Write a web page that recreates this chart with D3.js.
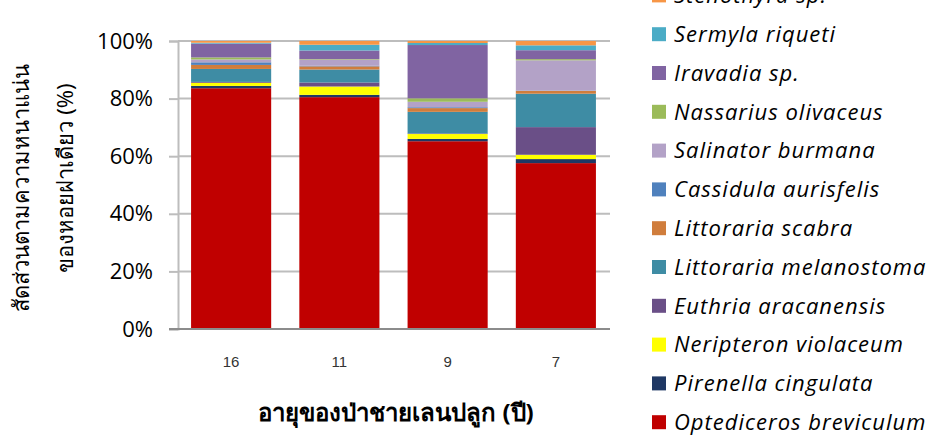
<!DOCTYPE html>
<html>
<head>
<meta charset="utf-8">
<script src="https://cdn.jsdelivr.net/npm/d3@7"></script>
<style>
  html, body { margin: 0; padding: 0; background: #fff; }
  svg { display: block; }
</style>
</head>
<body>
<svg id="chart" width="933" height="437"></svg>
<script>
// Stand ages (years) on the x axis
const categories = ["16", "11", "9", "7"];

// Species, stacked from the bottom of each bar upward
const species = [
  "Optediceros breviculum",
  "Pirenella cingulata",
  "Neripteron violaceum",
  "Euthria aracanensis",
  "Littoraria melanostoma",
  "Littoraria scabra",
  "Cassidula aurisfelis",
  "Salinator burmana",
  "Nassarius olivaceus",
  "Iravadia sp.",
  "Sermyla riqueti",
  "Stenothyra sp."
];

// Share of gastropod density (%) for each species, one value per stand age
const optediceros = [83.6, 80.5, 65.2, 57.6];
const pirenella   = [0.8, 0.8, 0.8, 1.4];
const neripteron  = [1.1, 2.9, 1.7, 1.5];
const euthria     = [0.3, 1.4, 0.2, 9.6];
const lMelano     = [4.5, 4.5, 7.5, 11.6];
const lScabra     = [1.4, 1.1, 1.3, 1.0];
const cassidula   = [0.9, 0.2, 0.3, 0.1];
const salinator   = [1.0, 2.1, 1.9, 10.5];
const nassarius   = [0.7, 0.2, 1.2, 0.4];
const iravadia    = [4.8, 3.0, 18.5, 3.1];
const sermyla     = [0.3, 2.0, 0.7, 1.7];
const stenothyra  = [0.6, 1.3, 0.7, 1.5];

const seriesValues = [optediceros, pirenella, neripteron, euthria, lMelano, lScabra,
                      cassidula, salinator, nassarius, iravadia, sermyla, stenothyra];

const colors = ["#C00000", "#1F3864", "#FFFF00", "#6A4F87", "#3E8CA4", "#D07D3C",
                "#4F81BD", "#B3A2C7", "#9BBB59", "#8064A2", "#4BACC6", "#F79646"];

const yTicks = [0, 20, 40, 60, 80, 100];

const yTitleLines = ["สัดส่วนตามความหนาแน่น", "ของหอยฝาเดียว (%)"];
const xTitle = "อายุของป่าชายเลนปลูก (ปี)";

// Table for d3.stack built from the arrays above
const rows = categories.map((c, i) => {
  const r = { age: c };
  species.forEach((s, k) => { r[s] = seriesValues[k][i]; });
  return r;
});

const svg = d3.select("#chart");
const margin = { left: 178, right: 323, top: 41, bottom: 108 };
const W = 933, H = 437;

const x = d3.scaleBand()
  .domain(categories)
  .range([margin.left - 1, W - margin.right])
  .paddingInner(0.26)
  .paddingOuter(0.13);

const y = d3.scaleLinear()
  .domain([0, 100])
  .range([H - margin.bottom, margin.top]);

const color = d3.scaleOrdinal().domain(species).range(colors);

const font = "'Open Sans', Lato, 'Noto Sans', sans-serif";

// Gridlines
svg.append("g")
  .selectAll("line")
  .data(yTicks.filter(t => t > 0))
  .join("line")
  .attr("x1", margin.left)
  .attr("x2", W - margin.right)
  .attr("y1", d => y(d))
  .attr("y2", d => y(d))
  .attr("stroke", "#BDBDBD")
  .attr("stroke-width", 2);

// Stacked bars
const stacked = d3.stack().keys(species)(rows);
svg.append("g")
  .selectAll("g")
  .data(stacked)
  .join("g")
  .attr("fill", d => color(d.key))
  .selectAll("rect")
  .data(d => d)
  .join("rect")
  .attr("x", d => x(d.data.age))
  .attr("width", x.bandwidth())
  .attr("y", d => y(d[1]))
  .attr("height", d => y(d[0]) - y(d[1]));

// Y axis
const yAxis = svg.append("g")
  .attr("transform", `translate(${margin.left},0)`)
  .call(d3.axisLeft(y).tickValues(yTicks).tickFormat(d => d + "%").tickSize(9).tickPadding(16));
yAxis.select(".domain").attr("stroke", "#BDBDBD").attr("stroke-width", 2);
yAxis.selectAll(".tick line").attr("stroke", "#BDBDBD").attr("stroke-width", 2);
yAxis.selectAll(".tick text")
  .attr("font-family", font)
  .attr("font-size", 22)
  .attr("fill", "#000");

// X axis
const xAxis = svg.append("g")
  .attr("transform", `translate(0,${H - margin.bottom})`)
  .call(d3.axisBottom(x).tickSize(0).tickPadding(27));
xAxis.select(".domain")
  .attr("d", `M${margin.left - 9},0H${W - margin.right}`)
  .attr("stroke", "#8C8C8C").attr("stroke-width", 2);
xAxis.selectAll(".tick text")
  .attr("font-family", "'Liberation Sans', Arial, sans-serif")
  .attr("font-size", 15)
  .attr("fill", "#333");

// Axis titles
svg.append("text")
  .attr("x", 396)
  .attr("y", 421)
  .attr("text-anchor", "middle")
  .attr("font-family", "'Noto Sans', sans-serif")
  .attr("font-weight", "bold")
  .attr("font-size", 24)
  .attr("fill", "#000")
  .text(xTitle);

const yTitle = svg.append("g")
  .attr("font-family", "'Noto Sans', sans-serif")
  .attr("font-size", 22)
  .attr("fill", "#000")
  .attr("text-anchor", "middle");
yTitleLines.forEach((line, i) => {
  const cx = i === 0 ? 29 : 73;
  const cy = i === 0 ? 188 : 178;
  yTitle.append("text")
    .attr("transform", `translate(${cx},${cy}) rotate(-90)`)
    .text(line);
});

// Legend, listed from top of the stack down
const legendItems = species.slice().reverse();
const legend = svg.append("g")
  .selectAll("g")
  .data(legendItems)
  .join("g")
  .attr("transform", (d, i) => `translate(652,${-4.6 + i * 38.8})`);
legend.append("rect")
  .attr("x", 0).attr("y", -7)
  .attr("width", 14).attr("height", 14)
  .attr("fill", d => color(d));
legend.append("text")
  .attr("x", 22).attr("y", 0)
  .attr("dy", "0.35em")
  .attr("font-family", font)
  .attr("font-style", "italic")
  .attr("font-size", 22)
  .attr("letter-spacing", 1)
  .attr("fill", "#000")
  .text(d => d);
</script>
</body>
</html>
